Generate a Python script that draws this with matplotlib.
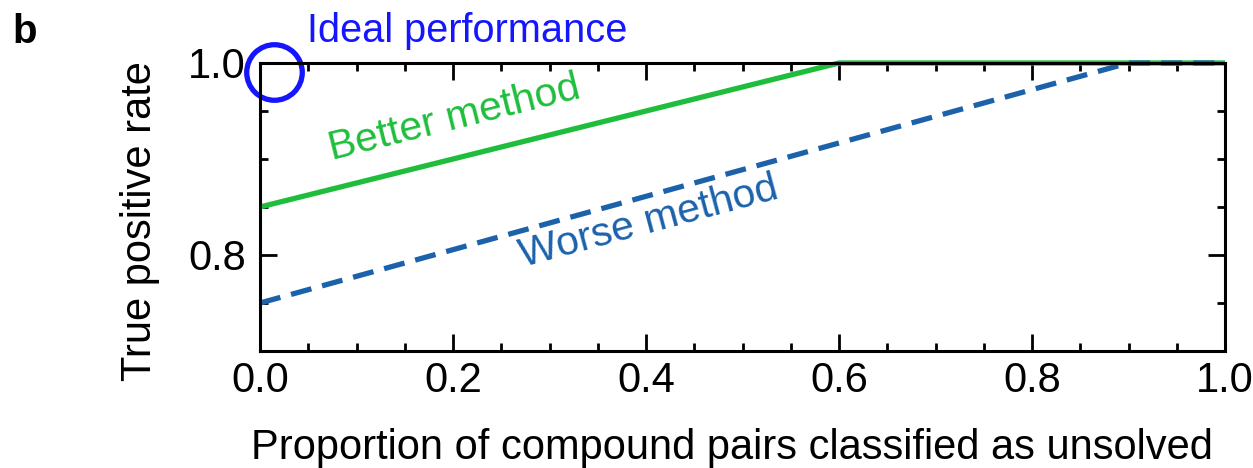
import matplotlib.pyplot as plt
from matplotlib.ticker import MultipleLocator

plt.rcParams['font.family'] = ['Liberation Sans', 'DejaVu Sans']

# data
better_x = [0.0, 0.6, 1.0]
better_y = [0.85, 1.0, 1.0]
worse_x = [0.0, 0.9, 1.0]
worse_y = [0.75, 1.0, 1.0]
ideal_x = [0.0145]
ideal_y = [0.9906]

green = '#1ebe3c'
blue = '#1b62ab'
pure_blue = '#1515ff'

fig = plt.figure(figsize=(12.53, 4.68), dpi=100)
ax = fig.add_axes([260 / 1253, 1 - 351 / 468, 965 / 1253, 288 / 468])

ax.plot(better_x, better_y, color=green, lw=3.8, solid_capstyle='butt', clip_on=False)
ax.plot(worse_x, worse_y, color=blue, lw=3.8, dashes=(4.0, 2.1), clip_on=False)
ax.plot(ideal_x, ideal_y, 'o', ms=40, mfc='none', mec=pure_blue, mew=3.8, clip_on=False)

ax.text(0.0745, 0.899, 'Better method', color=green, fontsize=29.5, rotation=14,
        rotation_mode='anchor', ha='left', va='baseline')
ax.text(0.273, 0.7875, 'Worse method', color=blue, fontsize=29.5, rotation=15,
        rotation_mode='anchor', ha='left', va='baseline')
ax.text(0.049, 1.0219, 'Ideal performance', color=pure_blue, fontsize=28.6,
        ha='left', va='baseline')

ax.set_xlim(0, 1.0)
ax.set_ylim(0.7, 1.0)
ax.xaxis.set_major_locator(MultipleLocator(0.2))
ax.xaxis.set_minor_locator(MultipleLocator(0.05))
ax.yaxis.set_major_locator(MultipleLocator(0.2))
ax.yaxis.set_minor_locator(MultipleLocator(0.05))
ax.set_yticks([0.8, 1.0])
ax.tick_params(which='both', direction='in', top=True, right=True, width=2, labelsize=30)
ax.tick_params(which='major', length=12)
ax.tick_params(which='minor', length=6)
ax.tick_params(axis='x', pad=7)
ax.tick_params(axis='y', pad=10)
for s in ax.spines.values():
    s.set_linewidth(2.2)

ax.set_xlabel('Proportion of compound pairs classified as unsolved', fontsize=30, labelpad=20)
ax.xaxis.label.set_x(0.489)
ax.set_ylabel('True positive rate', fontsize=30)
ax.yaxis.set_label_coords(-0.104, 0.45)

fig.text(12 / 1253, 1 - 43 / 468, 'b', fontsize=29, fontweight='bold', va='baseline')

fig.savefig('out.png', dpi=100)
